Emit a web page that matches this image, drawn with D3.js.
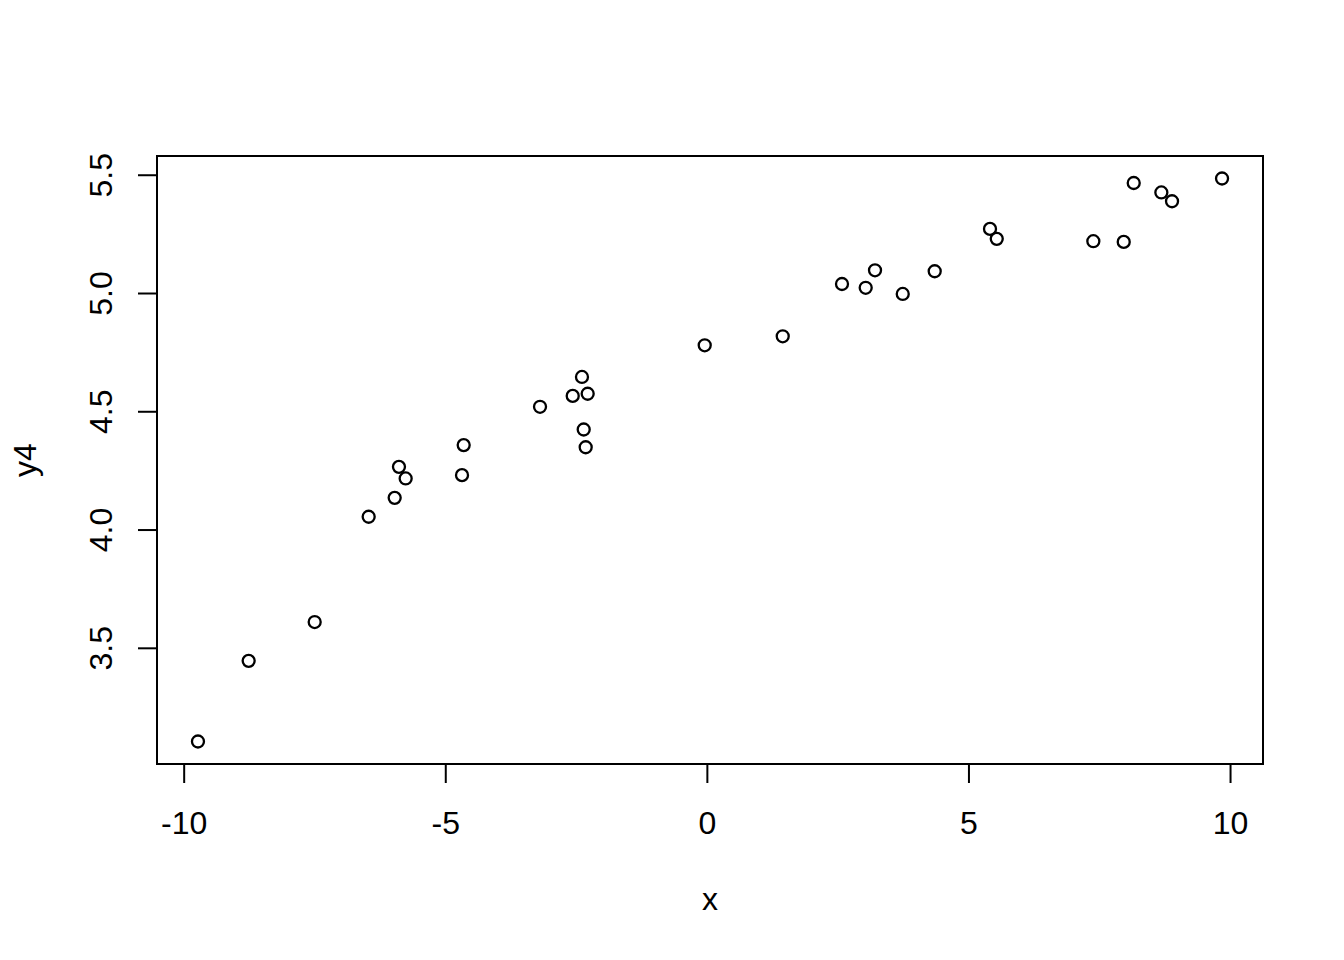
<!DOCTYPE html>
<html>
<head>
<meta charset="utf-8">
<script src="https://cdn.jsdelivr.net/npm/d3@7"></script>
<style>
  html, body { margin: 0; padding: 0; background: #fff; }
  svg { display: block; font-family: "Liberation Sans", Arial, sans-serif; }
</style>
</head>
<body>
<svg id="chart" width="1344" height="960"></svg>
<script>
// Scatter of y4 against x
const xVals = [
  -9.727, -8.758, -7.496, -6.464, -5.967, -5.885, -5.757, -4.680, -4.648, -3.189,
  -2.564, -2.387, -2.278, -2.354, -2.316, -0.041, 1.450, 2.583, 3.036, 3.214,
  3.744, 4.355, 5.412, 5.541, 7.387, 7.968, 8.159, 8.687, 8.891, 9.847
];
const y4Vals = [
  3.104, 3.445, 3.609, 4.054, 4.134, 4.265, 4.216, 4.230, 4.357, 4.519,
  4.565, 4.645, 4.574, 4.423, 4.348, 4.779, 4.817, 5.038, 5.022, 5.096,
  4.996, 5.092, 5.271, 5.229, 5.219, 5.216, 5.465, 5.425, 5.388, 5.484
];
const xTicks = [-10, -5, 0, 5, 10];
const yTicks = [3.5, 4.0, 4.5, 5.0, 5.5];

const points = xVals.map((x, i) => ({ x, y: y4Vals[i] }));

// plot region (R style, 4% padding on each axis)
const plot = { left: 157, right: 1263, top: 156, bottom: 764 };

function padded(vals) {
  const [lo, hi] = d3.extent(vals);
  const d = (hi - lo) * 0.04;
  return [lo - d, hi + d];
}

const x = d3.scaleLinear().domain(padded(xVals)).range([plot.left, plot.right]);
const y = d3.scaleLinear().domain(padded(y4Vals)).range([plot.bottom, plot.top]);

const svg = d3.select("#chart");
const FONT = 32;

// ---- x axis ----
const gx = svg.append("g")
  .attr("transform", `translate(0,${plot.bottom})`)
  .call(d3.axisBottom(x).tickValues(xTicks).tickFormat(d3.format("d"))
    .tickSize(19).tickPadding(28));
gx.select(".domain").remove();
gx.selectAll(".tick line").attr("stroke", "#000").attr("stroke-width", 2);
gx.selectAll(".tick text")
  .attr("fill", "#000")
  .style("font-size", FONT + "px")
  .text(d => d < 0 ? "-" + Math.abs(d) : d);

// ---- y axis ----
const gy = svg.append("g")
  .attr("transform", `translate(${plot.left},0)`)
  .call(d3.axisLeft(y).tickValues(yTicks).tickFormat(d3.format(".1f")).tickSize(19));
gy.select(".domain").remove();
gy.selectAll(".tick line").attr("stroke", "#000").attr("stroke-width", 2);
gy.selectAll(".tick text")
  .attr("x", null)
  .attr("dy", null)
  .attr("fill", "#000")
  .attr("text-anchor", "middle")
  .attr("transform", "translate(-45,0) rotate(-90)")
  .style("font-size", FONT + "px");

// ---- box ----
svg.append("rect")
  .attr("x", plot.left)
  .attr("y", plot.top)
  .attr("width", plot.right - plot.left)
  .attr("height", plot.bottom - plot.top)
  .attr("fill", "none")
  .attr("stroke", "#000")
  .attr("stroke-width", 2);

// ---- points (pch 1) ----
svg.append("g")
  .selectAll("circle")
  .data(points)
  .join("circle")
  .attr("cx", d => x(d.x))
  .attr("cy", d => y(d.y))
  .attr("r", 6)
  .attr("fill", "none")
  .attr("stroke", "#000")
  .attr("stroke-width", 2.3);

// ---- axis titles ----
svg.append("text")
  .attr("x", (plot.left + plot.right) / 2)
  .attr("y", 910)
  .attr("text-anchor", "middle")
  .style("font-size", FONT + "px")
  .text("x");

svg.append("text")
  .attr("transform", `translate(36,${(plot.top + plot.bottom) / 2}) rotate(-90)`)
  .attr("text-anchor", "middle")
  .style("font-size", FONT + "px")
  .text("y4");
</script>
</body>
</html>
